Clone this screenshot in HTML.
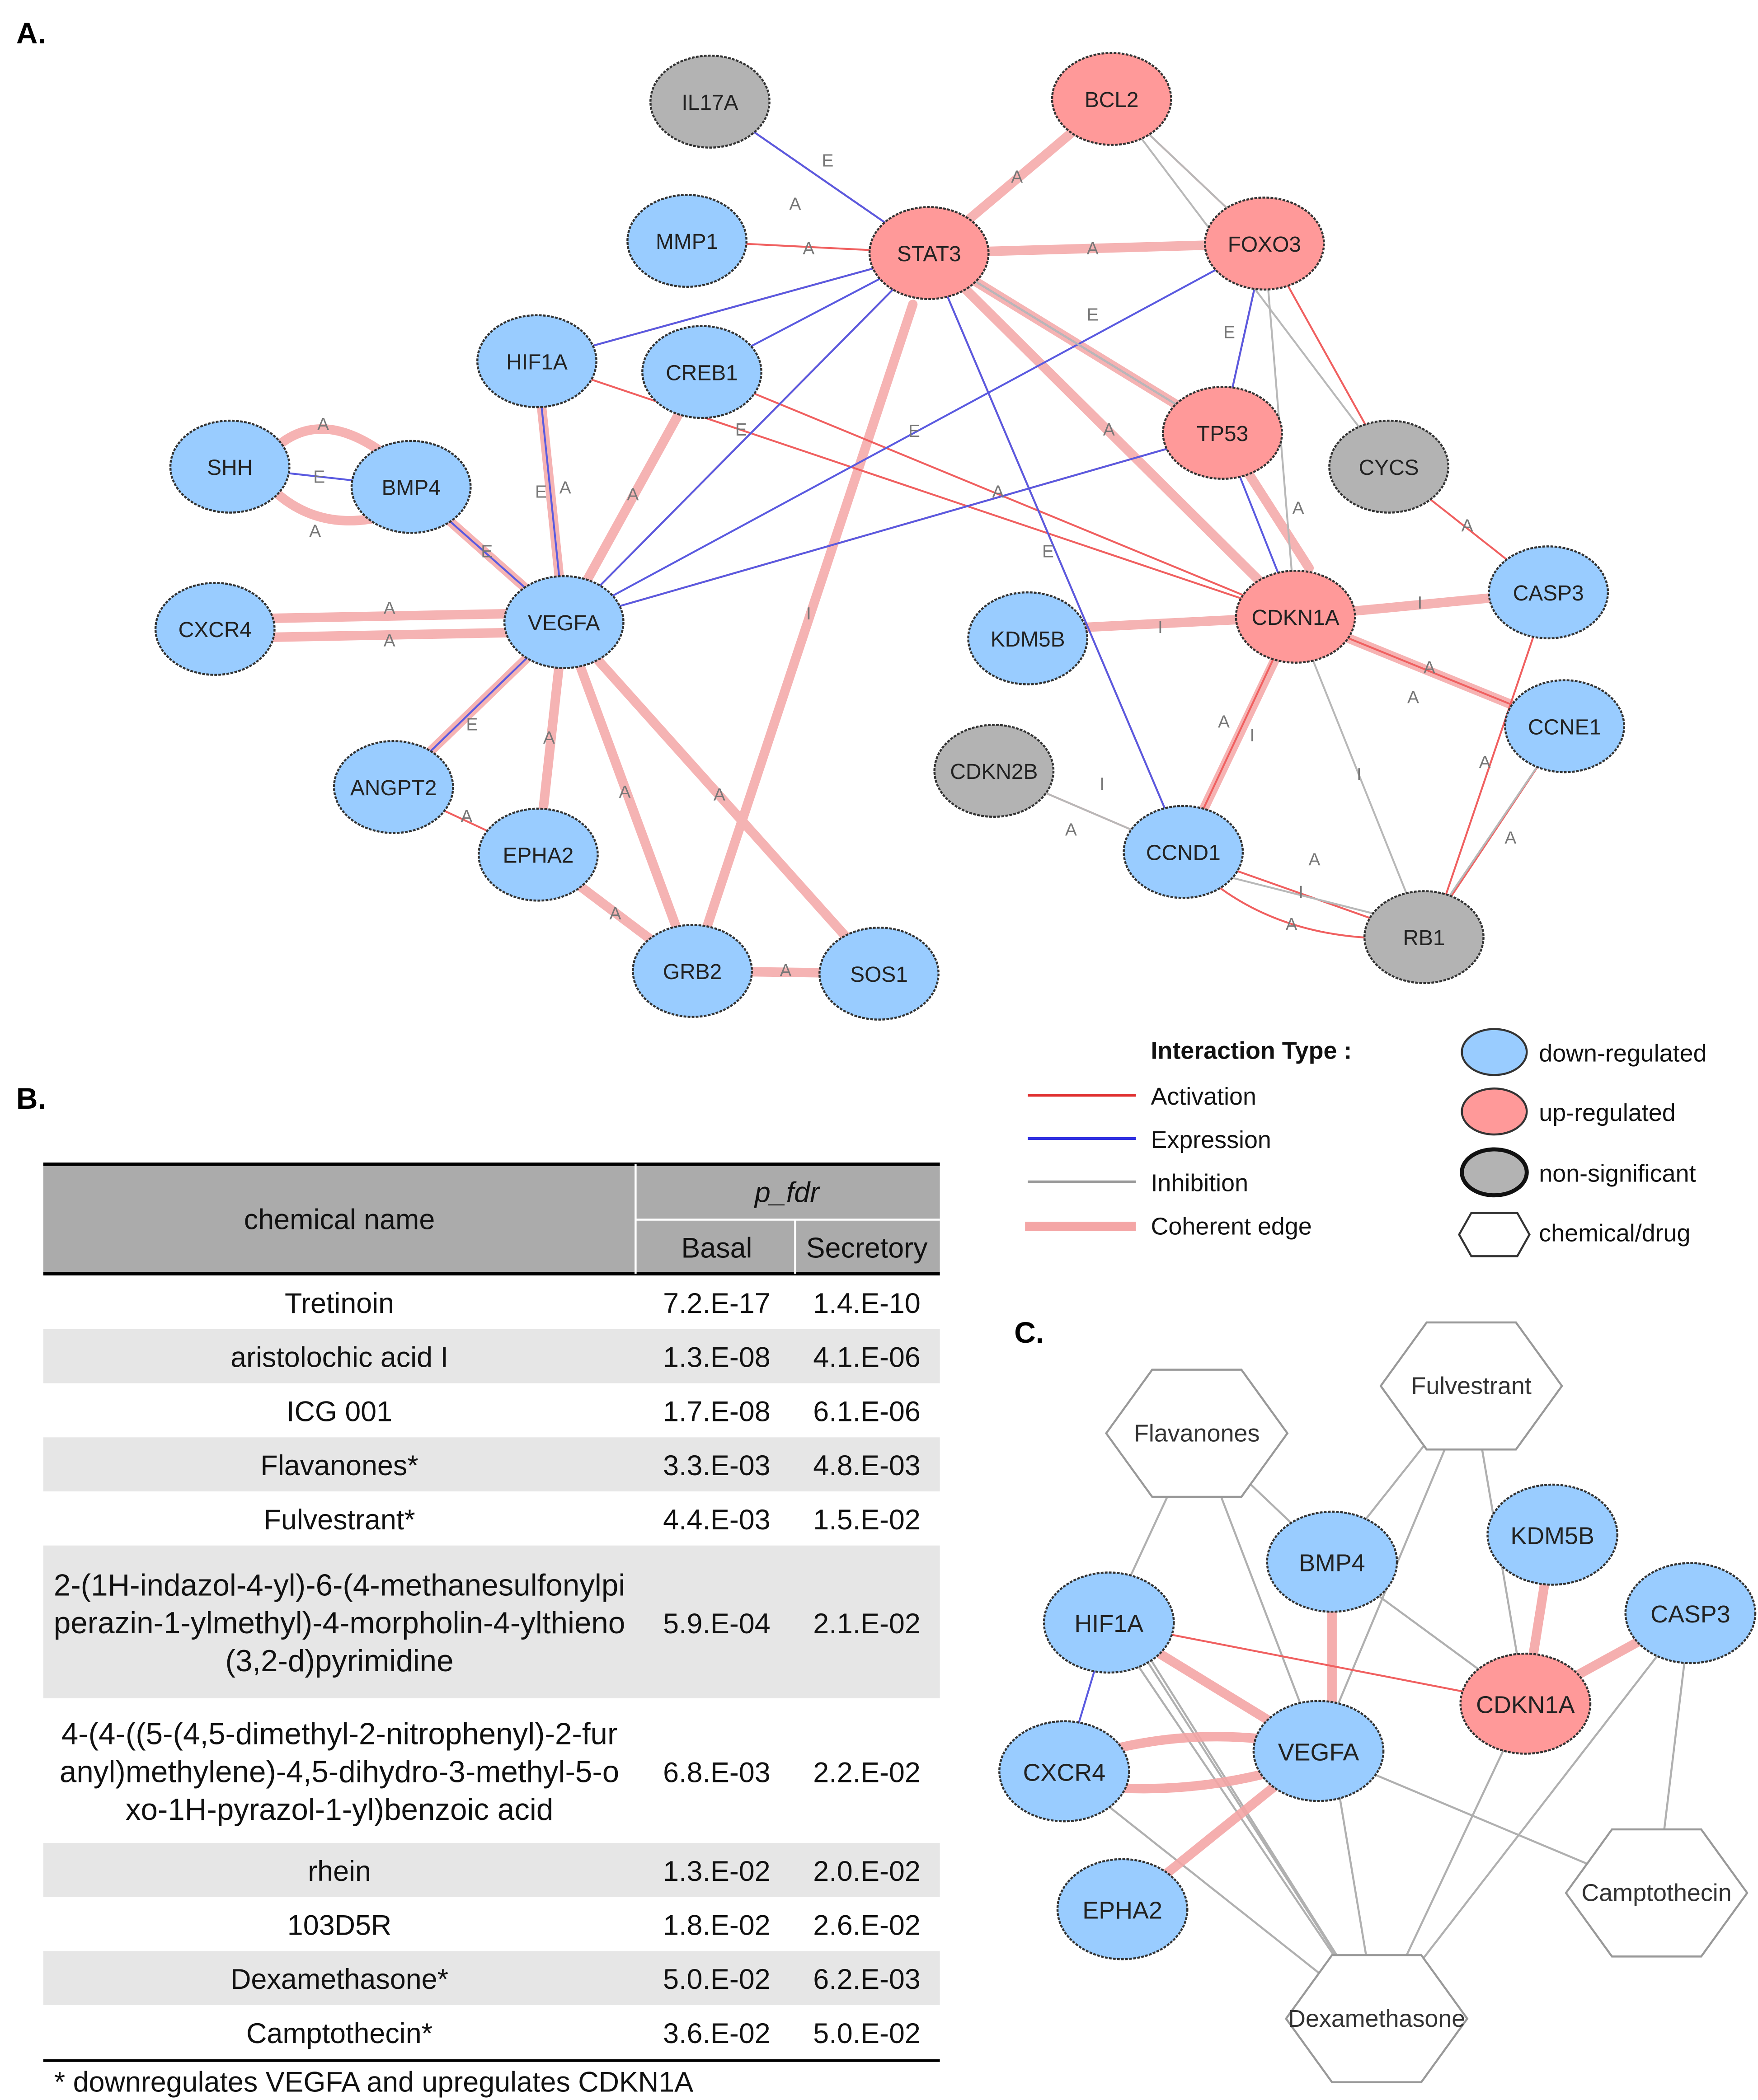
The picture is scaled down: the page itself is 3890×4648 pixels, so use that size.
<!DOCTYPE html>
<html><head><meta charset="utf-8"><style>
html,body{margin:0;padding:0;background:#fff;}
svg{display:block;}
text{font-family:"Liberation Sans",Arial,sans-serif;}
</style></head><body>
<svg width="3890" height="4648" viewBox="0 0 1300 1553" xmlns="http://www.w3.org/2000/svg">
<defs>
<marker id="ar" viewBox="0 0 10 10" refX="10" refY="5" markerWidth="5" markerHeight="5" orient="auto"><path d="M0 0L10 5L0 10z" fill="#f04040"/></marker>
<marker id="ag" viewBox="0 0 10 10" refX="10" refY="5" markerWidth="5" markerHeight="5" orient="auto"><path d="M0 0L10 5L0 10z" fill="#aaa"/></marker>
</defs>
<rect width="1300" height="1553" fill="#fff"/>
<text x="12" y="32" font-size="22" font-weight="bold">A.</text>
<text x="12" y="820" font-size="22" font-weight="bold">B.</text>
<text x="750" y="993" font-size="22" font-weight="bold">C.</text>

<!-- coherent edges -->
<g stroke="#f4a6a6" stroke-width="7" fill="none" stroke-linecap="round" opacity="0.85">
<line x1="687" y1="187" x2="822" y2="73"/>
<line x1="687" y1="187" x2="935" y2="180"/>
<line x1="687" y1="187" x2="904" y2="320"/>
<line x1="687" y1="187" x2="958" y2="456"/>
<line x1="512" y1="718" x2="675" y2="225"/>
<line x1="904" y1="320" x2="968" y2="420"/>
<line x1="397" y1="267" x2="417" y2="460"/>
<line x1="519" y1="275" x2="417" y2="460"/>
<line x1="304" y1="360" x2="417" y2="460"/>
<line x1="159" y1="458" x2="417" y2="453"/>
<line x1="159" y1="472" x2="417" y2="467"/>
<line x1="417" y1="460" x2="291" y2="582"/>
<line x1="417" y1="460" x2="398" y2="632"/>
<line x1="417" y1="460" x2="512" y2="718"/>
<line x1="417" y1="460" x2="650" y2="720"/>
<line x1="398" y1="632" x2="512" y2="718"/>
<line x1="512" y1="718" x2="650" y2="720"/>
<line x1="760" y1="466" x2="958" y2="456"/>
<line x1="958" y1="456" x2="1145" y2="438"/>
<line x1="958" y1="456" x2="1157" y2="537"/>
<line x1="958" y1="456" x2="875" y2="630"/>
<path d="M205 330 Q240 300 290 340"/>
<path d="M205 365 Q240 395 290 380"/>
</g>
<!-- thin edges -->
<g fill="none" stroke-width="1.4">
<g stroke="#f06060">
<line x1="687" y1="187" x2="525" y2="75"/>
<line x1="687" y1="187" x2="508" y2="178"/>
<line x1="687" y1="187" x2="397" y2="267"/>
<line x1="687" y1="187" x2="417" y2="460"/>
<line x1="687" y1="187" x2="875" y2="630"/>
<line x1="822" y1="73" x2="935" y2="180"/>
<line x1="935" y1="180" x2="904" y2="320"/>
<line x1="935" y1="180" x2="1027" y2="345"/>
<line x1="397" y1="267" x2="958" y2="456"/>
<line x1="519" y1="275" x2="958" y2="456"/>
<line x1="904" y1="320" x2="417" y2="460"/>
<line x1="291" y1="582" x2="398" y2="632"/>
<line x1="1027" y1="345" x2="1145" y2="438"/>
<line x1="1157" y1="537" x2="958" y2="456"/>
<line x1="735" y1="570" x2="875" y2="630"/>
<line x1="875" y1="630" x2="1053" y2="693"/>
<path d="M1053 693 Q960 700 900 655"/>
<line x1="1157" y1="537" x2="1053" y2="693"/>
<line x1="1145" y1="438" x2="1063" y2="680"/>
<line x1="875" y1="630" x2="945" y2="480"/>
</g>
<g stroke="#5a5ae0">
<line x1="525" y1="75" x2="687" y2="187"/>
<line x1="519" y1="275" x2="687" y2="187"/>
<line x1="397" y1="267" x2="687" y2="187"/>
<line x1="687" y1="187" x2="904" y2="320"/>
<line x1="687" y1="187" x2="875" y2="630"/>
<line x1="687" y1="187" x2="417" y2="460"/>
<line x1="935" y1="180" x2="417" y2="460"/>
<line x1="904" y1="320" x2="935" y2="180"/>
<line x1="904" y1="320" x2="417" y2="460"/>
<line x1="904" y1="320" x2="958" y2="456"/>
<line x1="397" y1="267" x2="417" y2="460"/>
<line x1="304" y1="360" x2="417" y2="460"/>
<line x1="170" y1="345" x2="304" y2="360"/>
<line x1="417" y1="460" x2="291" y2="582"/>
</g>
<g stroke="#b8b8b8">
<line x1="822" y1="73" x2="1027" y2="345"/>
<line x1="935" y1="180" x2="822" y2="73"/>
<line x1="935" y1="180" x2="958" y2="456"/>
<line x1="687" y1="187" x2="904" y2="320"/>
<line x1="958" y1="456" x2="1053" y2="693"/>
<line x1="735" y1="570" x2="875" y2="630"/>
<line x1="875" y1="640" x2="1053" y2="685"/>
<line x1="1157" y1="537" x2="1060" y2="680"/>
</g>
</g>
<!-- edge labels -->
<g font-size="13" fill="#777" text-anchor="middle">
<text x="808" y="188">A</text><text x="752" y="135">A</text><text x="598" y="188">A</text>
<text x="588" y="155">A</text><text x="612" y="123">E</text><text x="239" y="318">A</text>
<text x="233" y="397">A</text><text x="236" y="357">E</text><text x="288" y="454">A</text>
<text x="288" y="478">A</text><text x="406" y="550">A</text><text x="462" y="590">A</text>
<text x="532" y="592">A</text><text x="455" y="680">A</text><text x="581" y="722">A</text>
<text x="858" y="468">I</text><text x="1050" y="450">I</text><text x="1045" y="520">A</text>
<text x="1057" y="498">A</text><text x="905" y="538">A</text><text x="926" y="548">I</text>
<text x="972" y="640">A</text><text x="962" y="664">I</text><text x="955" y="688">A</text>
<text x="792" y="618">A</text><text x="815" y="584">I</text><text x="1085" y="393">A</text>
<text x="1098" y="568">A</text><text x="1117" y="624">A</text><text x="1005" y="577">I</text>
<text x="676" y="323">E</text><text x="738" y="368">A</text><text x="775" y="412">E</text>
<text x="960" y="380">A</text><text x="808" y="237">E</text><text x="820" y="322">A</text>
<text x="468" y="370">A</text><text x="418" y="365">A</text><text x="400" y="368">E</text>
<text x="360" y="412">E</text><text x="349" y="540">E</text><text x="345" y="608">A</text>
<text x="909" y="250">E</text><text x="598" y="458">I</text><text x="548" y="322">E</text>
</g>
<!-- nodes A -->
<g stroke="#333" stroke-width="1.5" stroke-dasharray="2 1" font-size="16" text-anchor="middle">
<g fill="#99ccff">
<ellipse cx="508" cy="178" rx="44" ry="34"/><ellipse cx="397" cy="267" rx="44" ry="34"/>
<ellipse cx="519" cy="275" rx="44" ry="34"/><ellipse cx="170" cy="345" rx="44" ry="34"/>
<ellipse cx="304" cy="360" rx="44" ry="34"/><ellipse cx="159" cy="465" rx="44" ry="34"/>
<ellipse cx="417" cy="460" rx="44" ry="34"/><ellipse cx="760" cy="472" rx="44" ry="34"/>
<ellipse cx="1145" cy="438" rx="44" ry="34"/><ellipse cx="1157" cy="537" rx="44" ry="34"/>
<ellipse cx="291" cy="582" rx="44" ry="34"/><ellipse cx="398" cy="632" rx="44" ry="34"/>
<ellipse cx="875" cy="630" rx="44" ry="34"/><ellipse cx="512" cy="718" rx="44" ry="34"/>
<ellipse cx="650" cy="720" rx="44" ry="34"/>
</g>
<g fill="#ff9999">
<ellipse cx="822" cy="73" rx="44" ry="34"/><ellipse cx="687" cy="187" rx="44" ry="34"/>
<ellipse cx="935" cy="180" rx="44" ry="34"/><ellipse cx="904" cy="320" rx="44" ry="34"/>
<ellipse cx="958" cy="456" rx="44" ry="34"/>
</g>
<g fill="#b3b3b3">
<ellipse cx="525" cy="75" rx="44" ry="34"/><ellipse cx="1027" cy="345" rx="44" ry="34"/>
<ellipse cx="735" cy="570" rx="44" ry="34"/><ellipse cx="1053" cy="693" rx="44" ry="34"/>
</g>
</g>
<g font-size="16" text-anchor="middle" fill="#222">
<text x="525" y="81">IL17A</text><text x="822" y="79">BCL2</text><text x="508" y="184">MMP1</text>
<text x="687" y="193">STAT3</text><text x="935" y="186">FOXO3</text><text x="397" y="273">HIF1A</text>
<text x="519" y="281">CREB1</text><text x="170" y="351">SHH</text><text x="304" y="366">BMP4</text>
<text x="904" y="326">TP53</text><text x="1027" y="351">CYCS</text><text x="159" y="471">CXCR4</text>
<text x="417" y="466">VEGFA</text><text x="760" y="478">KDM5B</text><text x="958" y="462">CDKN1A</text>
<text x="1145" y="444">CASP3</text><text x="1157" y="543">CCNE1</text><text x="735" y="576">CDKN2B</text>
<text x="291" y="588">ANGPT2</text><text x="398" y="638">EPHA2</text><text x="875" y="636">CCND1</text>
<text x="1053" y="699">RB1</text><text x="512" y="724">GRB2</text><text x="650" y="726">SOS1</text>
</g>

<!-- legend -->
<g font-size="18" fill="#111">
<text x="851" y="783" font-weight="bold">Interaction Type :</text>
<text x="851" y="817">Activation</text><text x="851" y="849">Expression</text>
<text x="851" y="881">Inhibition</text><text x="851" y="913">Coherent edge</text>
<text x="1138" y="785">down-regulated</text><text x="1138" y="829">up-regulated</text>
<text x="1138" y="874">non-significant</text><text x="1138" y="918">chemical/drug</text>
</g>
<line x1="760" y1="810" x2="840" y2="810" stroke="#e03030" stroke-width="2"/>
<line x1="760" y1="842" x2="840" y2="842" stroke="#3030e0" stroke-width="2"/>
<line x1="760" y1="874" x2="840" y2="874" stroke="#999" stroke-width="2"/>
<line x1="758" y1="907" x2="840" y2="907" stroke="#f4a6a6" stroke-width="7"/>
<ellipse cx="1105" cy="778" rx="24" ry="17" fill="#99ccff" stroke="#333" stroke-width="1.5"/>
<ellipse cx="1105" cy="822" rx="24" ry="17" fill="#ff9999" stroke="#333" stroke-width="1.5"/>
<ellipse cx="1105" cy="867" rx="24" ry="17" fill="#b3b3b3" stroke="#111" stroke-width="3"/>
<polygon points="1088,897 1122,897 1131,913 1122,929 1088,929 1079,913" fill="#fff" stroke="#333" stroke-width="1.5"/>

<!-- table B -->
<g>
<rect x="32" y="861" width="663" height="81" fill="#ababab"/>
<rect x="32" y="983" width="663" height="40" fill="#e6e6e6"/>
<rect x="32" y="1063" width="663" height="40" fill="#e6e6e6"/>
<rect x="32" y="1143" width="663" height="113" fill="#e6e6e6"/>
<rect x="32" y="1363" width="663" height="40" fill="#e6e6e6"/>
<rect x="32" y="1443" width="663" height="40" fill="#e6e6e6"/>
<line x1="32" y1="861" x2="695" y2="861" stroke="#000" stroke-width="2.5"/>
<line x1="32" y1="942" x2="695" y2="942" stroke="#000" stroke-width="2.5"/>
<line x1="32" y1="1524" x2="695" y2="1524" stroke="#000" stroke-width="2"/>
<line x1="470" y1="861" x2="470" y2="942" stroke="#fff" stroke-width="1.5"/>
<line x1="588" y1="902" x2="588" y2="942" stroke="#fff" stroke-width="1.5"/>
<line x1="470" y1="902" x2="695" y2="902" stroke="#fff" stroke-width="1.5"/>
</g>
<g font-size="21" text-anchor="middle" fill="#111">
<text x="251" y="909">chemical name</text>
<text x="582" y="889" font-style="italic">p_fdr</text>
<text x="530" y="930">Basal</text><text x="641" y="930">Secretory</text>
<text x="251" y="971">Tretinoin</text><text x="530" y="971">7.2.E-17</text><text x="641" y="971">1.4.E-10</text>
<text x="251" y="1011">aristolochic acid I</text><text x="530" y="1011">1.3.E-08</text><text x="641" y="1011">4.1.E-06</text>
<text x="251" y="1051">ICG 001</text><text x="530" y="1051">1.7.E-08</text><text x="641" y="1051">6.1.E-06</text>
<text x="251" y="1091">Flavanones*</text><text x="530" y="1091">3.3.E-03</text><text x="641" y="1091">4.8.E-03</text>
<text x="251" y="1131">Fulvestrant*</text><text x="530" y="1131">4.4.E-03</text><text x="641" y="1131">1.5.E-02</text>
<g font-size="22.5">
<text x="251" y="1180">2-(1H-indazol-4-yl)-6-(4-methanesulfonylpi</text>
<text x="251" y="1208">perazin-1-ylmethyl)-4-morpholin-4-ylthieno</text>
<text x="251" y="1236">(3,2-d)pyrimidine</text>
<text x="251" y="1290">4-(4-((5-(4,5-dimethyl-2-nitrophenyl)-2-fur</text>
<text x="251" y="1318">anyl)methylene)-4,5-dihydro-3-methyl-5-o</text>
<text x="251" y="1346">xo-1H-pyrazol-1-yl)benzoic acid</text>
</g>
<text x="530" y="1208">5.9.E-04</text><text x="641" y="1208">2.1.E-02</text>
<text x="530" y="1318">6.8.E-03</text><text x="641" y="1318">2.2.E-02</text>
<text x="251" y="1391">rhein</text><text x="530" y="1391">1.3.E-02</text><text x="641" y="1391">2.0.E-02</text>
<text x="251" y="1431">103D5R</text><text x="530" y="1431">1.8.E-02</text><text x="641" y="1431">2.6.E-02</text>
<text x="251" y="1471">Dexamethasone*</text><text x="530" y="1471">5.0.E-02</text><text x="641" y="1471">6.2.E-03</text>
<text x="251" y="1511">Camptothecin*</text><text x="530" y="1511">3.6.E-02</text><text x="641" y="1511">5.0.E-02</text>
<text x="40" y="1547" text-anchor="start">* downregulates VEGFA and upregulates CDKN1A</text>
</g>

<!-- panel C -->
<g stroke="#b0b0b0" stroke-width="1.5" fill="none">
<line x1="885" y1="1060" x2="820" y2="1200"/><line x1="885" y1="1060" x2="975" y2="1295"/>
<line x1="885" y1="1060" x2="985" y2="1155"/>
<line x1="1088" y1="1025" x2="985" y2="1155"/><line x1="1088" y1="1025" x2="975" y2="1295"/>
<line x1="1088" y1="1025" x2="1128" y2="1260"/>
<line x1="985" y1="1155" x2="1128" y2="1260"/>
<line x1="1225" y1="1400" x2="975" y2="1295"/><line x1="1225" y1="1400" x2="1250" y2="1193"/>
<line x1="1018" y1="1493" x2="820" y2="1200"/><line x1="1018" y1="1493" x2="787" y2="1310"/>
<line x1="1018" y1="1493" x2="830" y2="1200"/><line x1="1018" y1="1493" x2="985" y2="1295"/>
<line x1="1018" y1="1493" x2="1128" y2="1260"/><line x1="1018" y1="1493" x2="1250" y2="1193"/>
<line x1="1018" y1="1493" x2="840" y2="1210"/>
</g>
<g stroke="#f4a6a6" stroke-width="7" fill="none" opacity="0.9">
<line x1="820" y1="1200" x2="975" y2="1295"/>
<path d="M800 1300 Q880 1275 960 1290"/><path d="M800 1320 Q880 1330 960 1305"/>
<line x1="975" y1="1295" x2="830" y2="1412"/>
<line x1="985" y1="1155" x2="985" y2="1295"/>
<line x1="1148" y1="1135" x2="1128" y2="1260"/>
<line x1="1250" y1="1193" x2="1128" y2="1260"/>
</g>
<line x1="820" y1="1200" x2="1128" y2="1260" stroke="#f06060" stroke-width="1.4"/>
<line x1="820" y1="1200" x2="787" y2="1310" stroke="#5a5ae0" stroke-width="1.4"/>
<g fill="#fff" stroke="#999" stroke-width="1.5">
<polygon points="852,1013 918,1013 952,1060 918,1107 852,1107 818,1060"/>
<polygon points="1055,978 1121,978 1155,1025 1121,1072 1055,1072 1021,1025"/>
<polygon points="1192,1353 1258,1353 1292,1400 1258,1447 1192,1447 1158,1400"/>
<polygon points="985,1446 1051,1446 1085,1493 1051,1540 985,1540 951,1493"/>
</g>
<g stroke="#333" stroke-width="1.5" stroke-dasharray="2 1">
<g fill="#99ccff">
<ellipse cx="820" cy="1200" rx="48" ry="37"/><ellipse cx="985" cy="1155" rx="48" ry="37"/>
<ellipse cx="1148" cy="1135" rx="48" ry="37"/><ellipse cx="1250" cy="1193" rx="48" ry="37"/>
<ellipse cx="975" cy="1295" rx="48" ry="37"/><ellipse cx="787" cy="1310" rx="48" ry="37"/>
<ellipse cx="830" cy="1412" rx="48" ry="37"/>
</g>
<ellipse cx="1128" cy="1260" rx="48" ry="37" fill="#ff9999"/>
</g>
<g font-size="18" text-anchor="middle" fill="#222">
<text x="820" y="1207">HIF1A</text><text x="985" y="1162">BMP4</text><text x="1148" y="1142">KDM5B</text>
<text x="1250" y="1200">CASP3</text><text x="1128" y="1267">CDKN1A</text><text x="975" y="1302">VEGFA</text>
<text x="787" y="1317">CXCR4</text><text x="830" y="1419">EPHA2</text>
<text x="885" y="1066" fill="#333">Flavanones</text><text x="1088" y="1031" fill="#333">Fulvestrant</text>
<text x="1225" y="1406" fill="#333">Camptothecin</text><text x="1018" y="1499" fill="#333">Dexamethasone</text>
</g>
</svg>
</body></html>
